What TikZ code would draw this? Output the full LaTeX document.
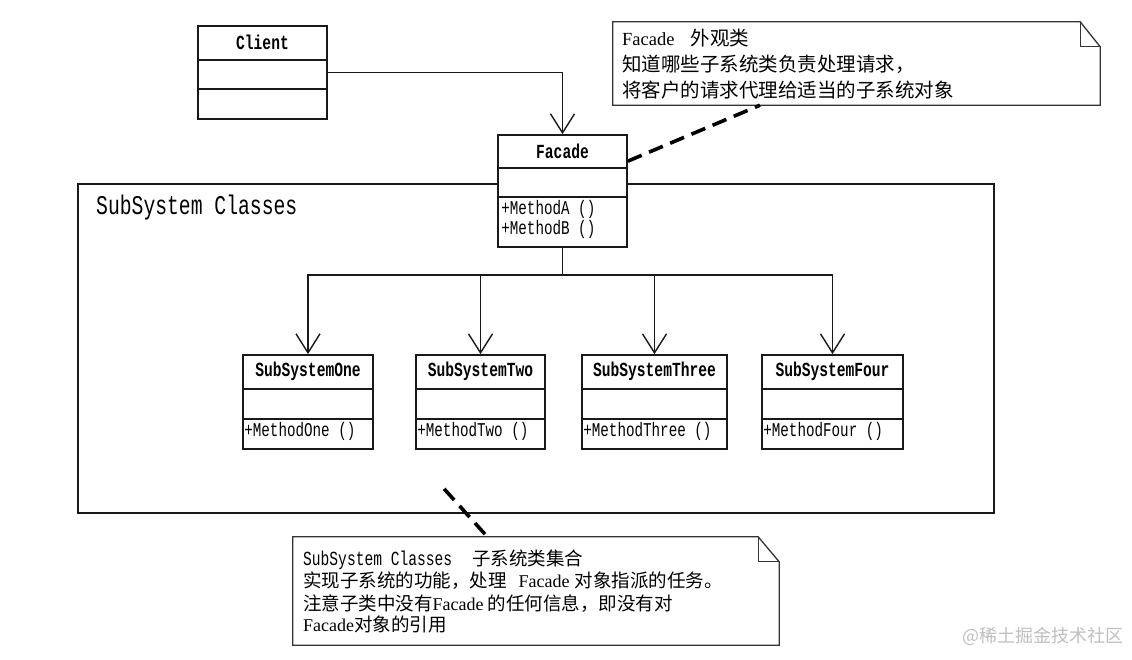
\documentclass[tikz,border=0pt]{standalone}
\usepackage{fontspec}
\setmainfont{Liberation Serif}
\newfontfamily\cjk{Noto Sans CJK SC}
\newfontfamily\monof[FakeStretch=0.73]{Liberation Mono}
\usetikzlibrary{arrows.meta,calc}
\tikzset{
  clsbox/.style={draw=black!90, line width=1.7pt, fill=white, inner sep=0pt},
  clsline/.style={draw=black!90, line width=1.5pt},
  ttl/.style={font=\monof\bfseries\fontsize{20}{20}\selectfont, inner sep=0pt},
  mth/.style={font=\monof\fontsize{19.5}{20}\selectfont, inner sep=0pt, anchor=west},
  conn/.style={draw=black!90, line width=1.4pt, -{Straight Barb[length=19pt,width=24pt,line width=1.4pt]}},
  link/.style={draw=black!90, line width=1.4pt},
  notebox/.style={inner sep=0pt},
  noteshape/.style={draw=black!80, line width=1.3pt, line join=miter},
  dashln/.style={draw=black, line width=3.6pt, dash pattern=on 15pt off 8pt},
  ntext/.style={anchor=base west, inner sep=0pt},
}
\newcommand\umlclass[8]{%
  \node[clsbox, minimum width=#4pt, minimum height=#5pt] (#1) at (#2,#3) {};
  \draw[clsline] ([yshift=-#6pt]#1.north west) -- ([yshift=-#6pt]#1.north east);
  \draw[clsline] ([yshift=-#7pt]#1.north west) -- ([yshift=-#7pt]#1.north east);
  \node[ttl] (#1-t) at ($(#1.north)+(0,17)$) {#8};
}
\newcommand\cjkA{\cjk\fontsize{19.5}{24}\selectfont}
\newcommand\cjkB{\cjk\fontsize{18.5}{22}\selectfont}
\begin{document}
\begin{tikzpicture}[x=1pt,y=-1pt]
\useasboundingbox (0,0) rectangle (1132,660);
\fill[white] (0,0) rectangle (1132,660);

% subsystem frame
\node[draw=black!90, line width=1.7pt, minimum width=916pt, minimum height=329pt, inner sep=0pt] (frame) at (536,348.5) {};
\node[ntext, font=\monof\fontsize{27}{27}\selectfont] (framelabel) at (96,215) {SubSystem Classes};

% classes
\umlclass{client}{262.5}{72.5}{129}{93}{35}{64}{Client}
\umlclass{facade}{562.5}{191}{129}{112}{34}{63}{Facade}
\node[mth] (facade-m1) at ($(facade.north west)+(4,75)$) {+MethodA ()};
\node[mth] (facade-m2) at ($(facade.north west)+(4,95)$) {+MethodB ()};

\umlclass{one}{308}{402}{130}{94}{35}{65}{SubSystemOne}
\umlclass{two}{480.5}{402}{129}{94}{35}{65}{SubSystemTwo}
\umlclass{three}{654.5}{402}{145}{94}{35}{65}{SubSystemThree}
\umlclass{four}{832.5}{402}{141}{94}{35}{65}{SubSystemFour}
\node[mth] (one-m) at ($(one.north west)+(2,77)$) {+MethodOne ()};
\node[mth] (two-m) at ($(two.north west)+(2,77)$) {+MethodTwo ()};
\node[mth] (three-m) at ($(three.north west)+(2,77)$) {+MethodThree ()};
\node[mth] (four-m) at ($(four.north west)+(2,77)$) {+MethodFour ()};

% connectors
\draw[conn] (client.east) -| (facade.north);
\coordinate (j) at ($(facade.south)+(0,27)$);
\draw[link] (facade.south) -- (j);
\draw[conn] (j) -| (one.north);
\draw[conn] (j) -| (two.north);
\draw[conn] (j) -| (three.north);
\draw[conn] (j) -| (four.north);

% note 1
\node[notebox, minimum width=487pt, minimum height=83pt] (note1) at (856.5,63.5) {};
\draw[noteshape] (note1.north west) -- ([xshift=-20pt]note1.north east) -- ([yshift=-25pt]note1.north east) -- (note1.south east) -- (note1.south west) -- cycle;
\draw[noteshape] ([xshift=-20pt]note1.north east) -- ([xshift=-20pt,yshift=-25pt]note1.north east) -- ([yshift=-25pt]note1.north east);
\node[ntext] (n1a) at (622,46) {\fontsize{18.5}{22}\selectfont Facade\hspace{16pt}{\cjkA 外观类}};
\node[ntext] (n1b) at (622,72) {\cjkA 知道哪些子系统类负责处理请求，};
\node[ntext] (n1c) at (622,98) {\cjkA 将客户的请求代理给适当的子系统对象};

% note 2
\node[notebox, minimum width=486pt, minimum height=108pt] (note2) at (536,591) {};
\draw[noteshape] (note2.north west) -- ([xshift=-21pt]note2.north east) -- ([yshift=-25pt]note2.north east) -- (note2.south east) -- (note2.south west) -- cycle;
\draw[noteshape] ([xshift=-21pt]note2.north east) -- ([xshift=-21pt,yshift=-25pt]note2.north east) -- ([yshift=-25pt]note2.north east);
\node[ntext] (n2a) at (303,565) {{\monof\fontsize{20}{22}\selectfont SubSystem Classes}\hspace{20pt}{\cjkB 子系统类集合}};
\node[ntext] (n2b) at (303,587) {{\cjkB 实现子系统的功能，处理}\hspace{12pt}{\fontsize{18}{22}\selectfont Facade}\hspace{5pt}{\cjkB 对象指派的任务。}};
\node[ntext] (n2c) at (303,610) {{\cjkB 注意子类中没有}{\fontsize{18}{22}\selectfont Facade}\hspace{4pt}{\cjkB 的任何信息，即没有对}};
\node[ntext] (n2d) at (303,631) {{\fontsize{18}{22}\selectfont Facade}{\cjkB 对象的引用}};

% dashed note links
\draw[dashln] ($(facade.north east)+(0,27)$) -- ($(note1.south west)!0.302!(note1.south east)$);
\coordinate (d2s) at ($(frame.south west)+(367,-25)$);
\draw[dashln] (d2s) -- ($(note2.north west)!0.4!(note2.north east)$);

% watermark
\node[ntext, text=black!25] (wm) at (962,642) {\cjk\fontsize{18}{20}\selectfont @稀土掘金技术社区};
\end{tikzpicture}
\end{document}
